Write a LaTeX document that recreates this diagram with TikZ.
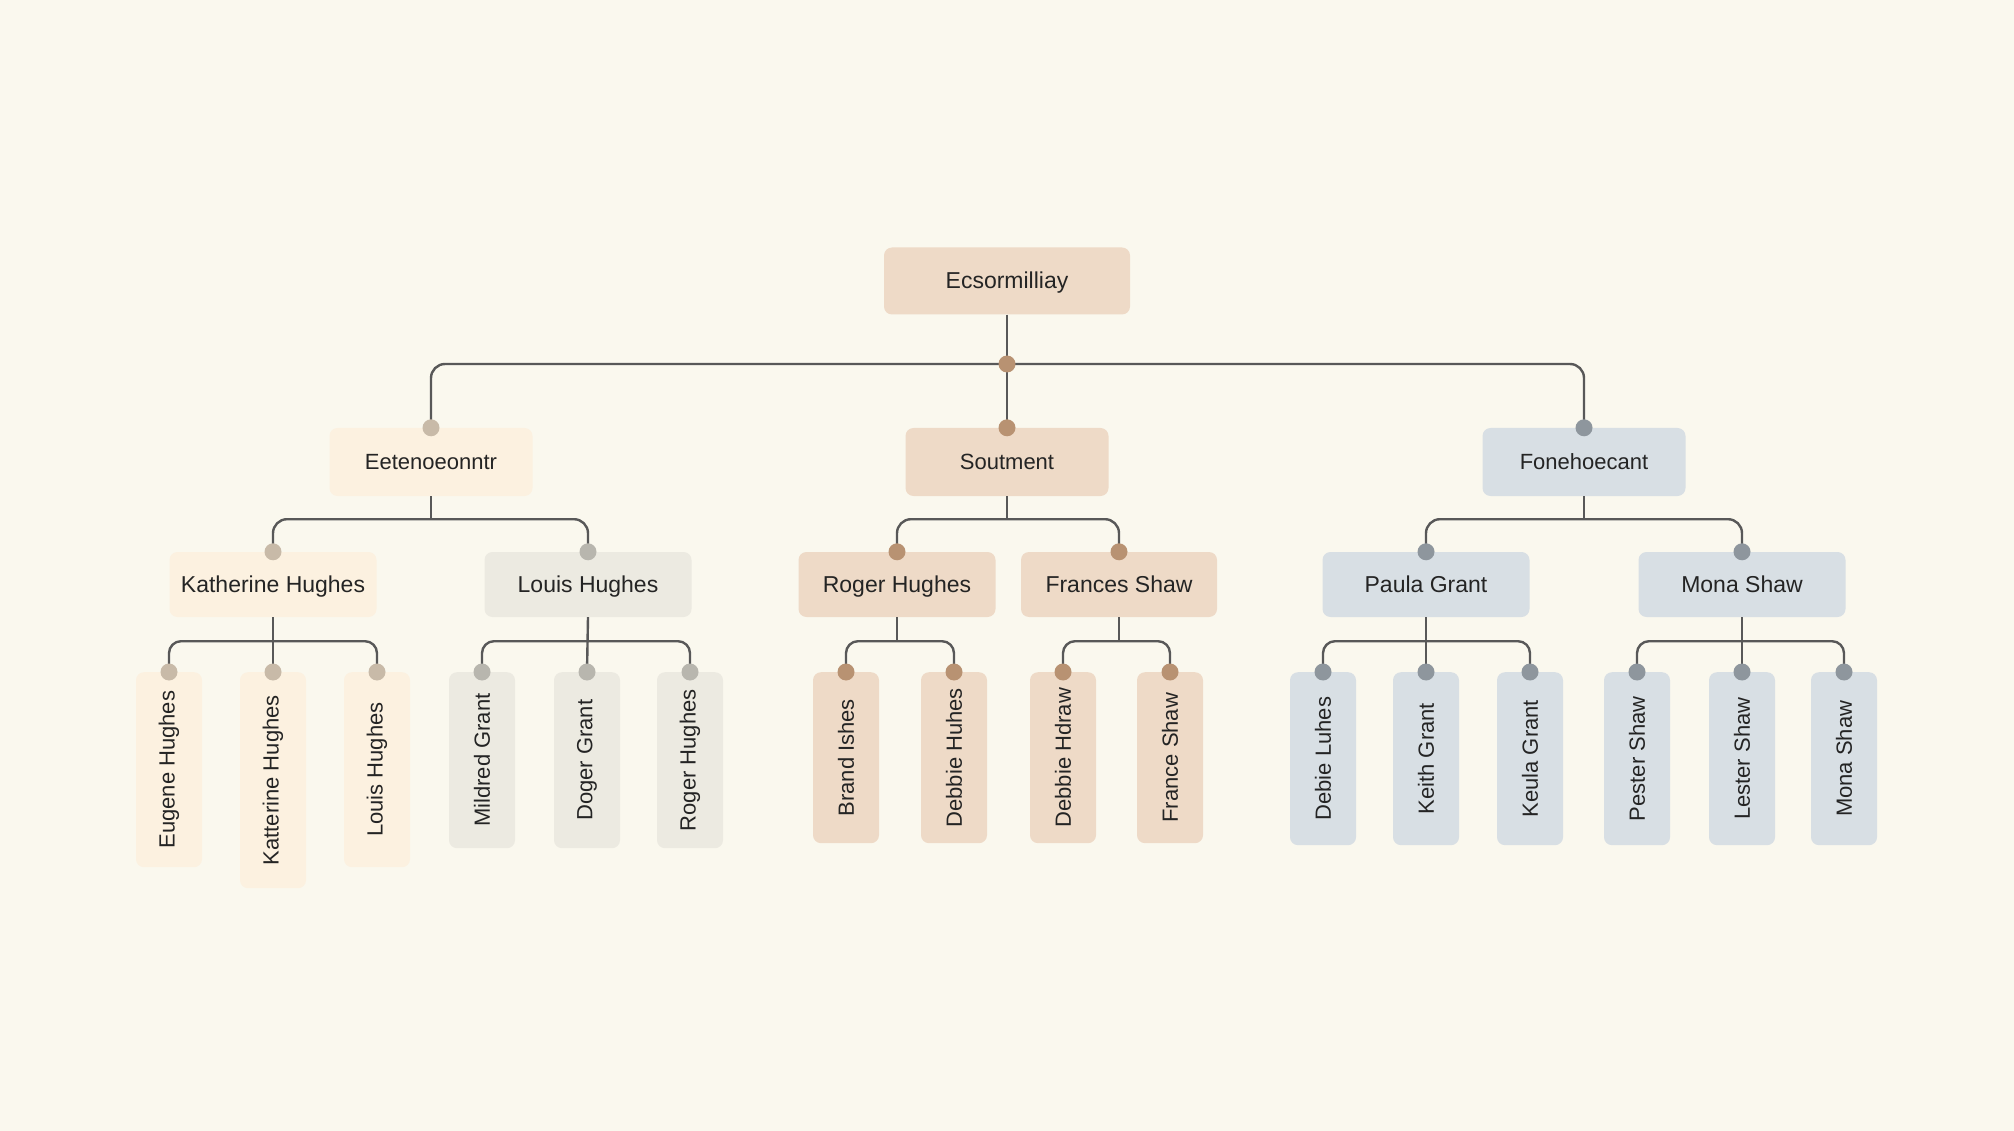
\documentclass[tikz,border=0pt]{standalone}
\usepackage{fontspec}
\setmainfont{Liberation Sans}
\usetikzlibrary{positioning}
\definecolor{paper}{RGB}{250,248,238}
\definecolor{wire}{RGB}{88,88,88}
\definecolor{txt}{RGB}{36,36,36}
\definecolor{tanbox}{RGB}{238,218,199}
\definecolor{tandot}{RGB}{184,146,114}
\definecolor{creambox}{RGB}{252,241,224}
\definecolor{creamdot}{RGB}{200,186,168}
\definecolor{greybox}{RGB}{236,234,225}
\definecolor{greydot}{RGB}{184,182,174}
\definecolor{bluebox}{RGB}{216,223,228}
\definecolor{bluedot}{RGB}{142,150,157}
\tikzset{box/.style={rounded corners=8, inner sep=0pt, text=txt, font=\fontsize{22}{26}\selectfont}}
\tikzset{flat/.style={box, text height=16pt, text depth=0pt}}
\tikzset{top/.style={flat, minimum width=246, minimum height=67, font=\fontsize{23}{27}\selectfont}}
\tikzset{mid/.style={flat, minimum width=203, minimum height=68}}
\tikzset{kid/.style={flat, minimum width=207, minimum height=65, font=\fontsize{23}{27}\selectfont}}
\tikzset{leaf/.style={box, rotate=90, anchor=east, minimum height=66}}
\tikzset{conn/.style={draw=wire, line width=2.4pt}}
\tikzset{dot/.style={circle, fill=#1, inner sep=0pt, minimum size=17pt}}
\begin{document}
\begin{tikzpicture}[x=1pt,y=-1pt]
\useasboundingbox[fill=paper] (0,0) rectangle (2014,1131);
% root and first row
\node[top, fill=tanbox] (root) at (1007,281) {Ecsormilliay};
\node[mid, fill=creambox] (west) at (431,462) {Eetenoeonntr};
\node[mid, fill=tanbox] (south) at (1007,462) {Soutment};
\node[mid, fill=bluebox] (east) at (1584,462) {Fonehoecant};
\coordinate (b0) at (1007,364);
\draw[conn] (root.south) -- (b0);
\draw[conn, rounded corners=14] (west.north) |- (b0) -| (east.north);
\draw[conn] (b0) -- (south.north);
\node[dot=tandot] at (b0) {};
\node[dot=creamdot] at (west.north) {};
\node[dot=tandot] at (south.north) {};
\node[dot=bluedot] at (east.north) {};
% second row
\node[kid, fill=creambox] (kath) at (273,584.5) {Katherine Hughes};
\node[kid, fill=greybox] (louis) at (588,584.5) {Louis Hughes};
\node[kid, fill=tanbox, minimum width=197] (roger) at (897,584.5) {Roger Hughes};
\node[kid, fill=tanbox, minimum width=196] (fran) at (1119,584.5) {Frances Shaw};
\node[kid, fill=bluebox] (paula) at (1426,584.5) {Paula Grant};
\node[kid, fill=bluebox] (mona) at (1742,584.5) {Mona Shaw};
\foreach \up/\a/\b in {west/kath/louis, south/roger/fran, east/paula/mona}{
  \path (\up.south) ++(0,23) coordinate (b\up);
  \draw[conn] (\up.south) -- (b\up);
  \draw[conn, rounded corners=14] (\a.north) |- (b\up) -| (\b.north);
}
\node[dot=creamdot] at (kath.north) {};
\node[dot=greydot] at (louis.north) {};
\node[dot=tandot] at (roger.north) {};
\node[dot=tandot] at (fran.north) {};
\node[dot=bluedot] at (paula.north) {};
\node[dot=bluedot] at (mona.north) {};
% leaves
\foreach \i/\x/\h/\who in {1/169/195/Eugene Hughes, 2/273/216/Katterine Hughes, 3/377/195/Louis Hughes}
  \node[leaf, fill=creambox, minimum width=\h] (kath\i) at (\x,672) {\who};
\foreach \i/\x/\who in {1/482/Mildred Grant, 2/587/Doger Grant, 3/690/Roger Hughes}
  \node[leaf, fill=greybox, minimum width=176] (louis\i) at (\x,672) {\who};
\foreach \i/\x/\who in {1/846/Brand Ishes, 2/954/Debbie Huhes}
  \node[leaf, fill=tanbox, minimum width=171] (roger\i) at (\x,672) {\who};
\foreach \i/\x/\who in {1/1063/Debbie Hdraw, 2/1170/France Shaw}
  \node[leaf, fill=tanbox, minimum width=171] (fran\i) at (\x,672) {\who};
\foreach \i/\x/\who in {1/1323/Debie Luhes, 2/1426/Keith Grant, 3/1530/Keula Grant}
  \node[leaf, fill=bluebox, minimum width=173] (paula\i) at (\x,672) {\who};
\foreach \i/\x/\who in {1/1637/Pester Shaw, 2/1742/Lester Shaw, 3/1844/Mona Shaw}
  \node[leaf, fill=bluebox, minimum width=173] (mona\i) at (\x,672) {\who};
% leaf connectors
\foreach \up in {kath, louis, paula, mona}{
  \path (\up.south) ++(0,24) coordinate (l\up);
  \draw[conn] (\up.south) -- (\up2.east);
  \draw[conn, rounded corners=12] (\up1.east) |- (l\up) -| (\up3.east);
}
\foreach \up in {roger, fran}{
  \path (\up.south) ++(0,24) coordinate (l\up);
  \draw[conn] (\up.south) -- (l\up);
  \draw[conn, rounded corners=12] (\up1.east) |- (l\up) -| (\up2.east);
}
\foreach \i in {1,2,3}{
  \node[dot=creamdot] at (kath\i.east) {};
  \node[dot=greydot] at (louis\i.east) {};
  \node[dot=bluedot] at (paula\i.east) {};
  \node[dot=bluedot] at (mona\i.east) {};
}
\foreach \i in {1,2}{
  \node[dot=tandot] at (roger\i.east) {};
  \node[dot=tandot] at (fran\i.east) {};
}
\end{tikzpicture}
\end{document}
